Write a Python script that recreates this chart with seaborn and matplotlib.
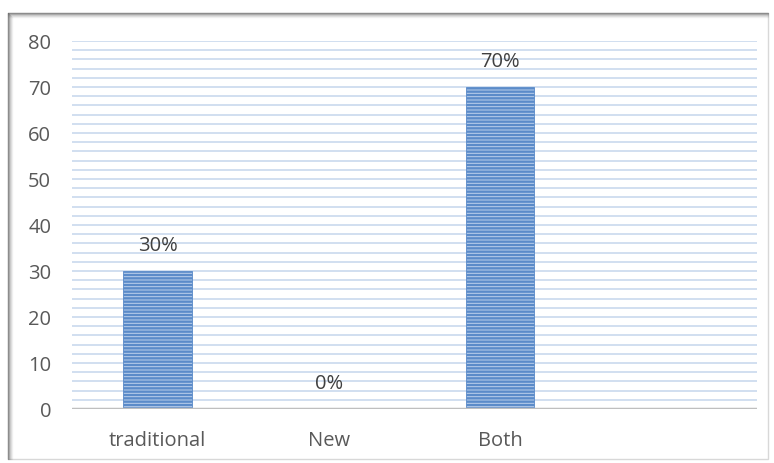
import matplotlib
matplotlib.use("Agg")
import matplotlib.pyplot as plt
import seaborn as sns
import pandas as pd
from matplotlib.patches import Rectangle

categories = ["traditional", "New", "Both"]
values = [30, 0, 70]
labels = ["30%", "0%", "70%"]
yticks = [0, 10, 20, 30, 40, 50, 60, 70, 80]

sns.set_theme(style="white")
plt.rcParams["font.family"] = ["Open Sans", "DejaVu Sans"]
plt.rcParams["hatch.linewidth"] = 1.7
plt.rcParams["hatch.color"] = "#4677b8"

fig = plt.figure(figsize=(7.74, 4.63), dpi=100)
ax = fig.add_axes([0.093, 0.1166, 0.885, 0.7948])

df = pd.DataFrame({"cat": categories, "val": values})
sns.barplot(data=df, x="cat", y="val", ax=ax, color="#bcd0ec", width=0.4,
            saturation=1, edgecolor="#5b8bc9", linewidth=0.6)
for p in ax.patches:
    p.set_hatch("-----")

ax.set_xlim(-0.5, 3.5)
ax.set_ylim(0, 80)
ax.set_yticks(yticks)
ax.set_yticks(range(0, 81, 2), minor=True)
ax.grid(True, which="both", axis="y", color="#c5d6ec", linewidth=1.1)
ax.set_axisbelow(True)
for s in ax.spines.values():
    s.set_visible(False)
ax.axhline(0, color="#bfbfbf", linewidth=2.5, zorder=3)
ax.set_xlabel("")
ax.set_ylabel("")
ax.tick_params(axis="y", which="both", length=0, pad=15, labelsize=14.5, labelcolor="#595959")
ax.tick_params(axis="x", length=0, pad=16, labelsize=14.5, labelcolor="#595959")

for i, (v, t) in enumerate(zip(values, labels)):
    ax.annotate(t, (i, v), xytext=(0, 18), textcoords="offset points",
                ha="center", va="center", fontsize=14.5, color="#404040")

# frame with shadow
x0, y0, x1, y1 = 0.0103, 0.0086, 0.992, 0.972
fig.patches.append(Rectangle((x0, y0), x1 - x0, y1 - y0, transform=fig.transFigure,
                             fill=False, edgecolor="#d8d8d8", linewidth=1.0, zorder=0))
for k, a in enumerate([0.6, 0.4, 0.25, 0.14, 0.07]):
    off = k * 0.0013
    fig.add_artist(plt.Line2D([x0 + off, x0 + off], [y0, y1 - off * 1.67],
                              transform=fig.transFigure, color="#606060", alpha=a, linewidth=1))
    fig.add_artist(plt.Line2D([x0, x1], [y1 - off * 1.67, y1 - off * 1.67],
                              transform=fig.transFigure, color="#606060", alpha=a, linewidth=1))

fig.savefig("out.png", dpi=100)
